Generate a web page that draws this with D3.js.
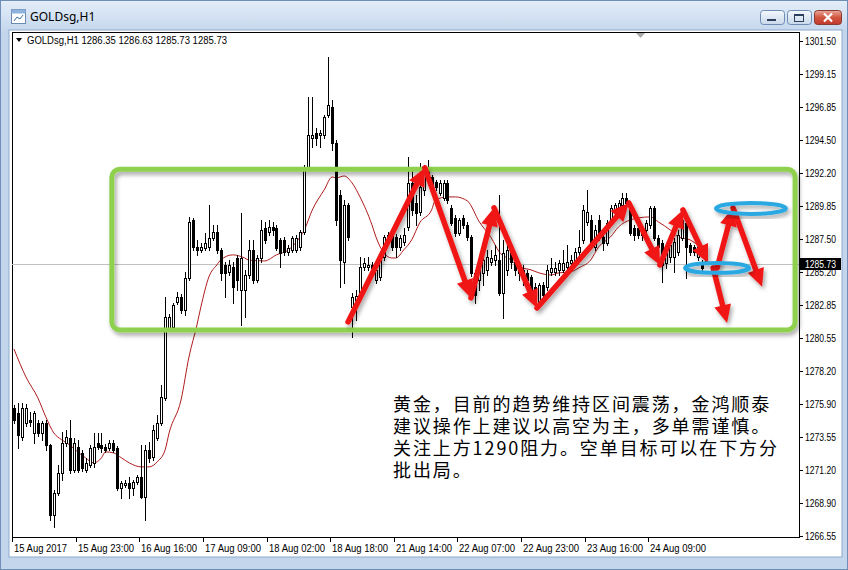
<!DOCTYPE html>
<html><head><meta charset="utf-8">
<script src="https://cdn.jsdelivr.net/npm/d3@7/dist/d3.min.js"></script>
<style>html,body{margin:0;padding:0;background:#fff;}svg{display:block;}</style>
</head><body>
<svg id="chart" width="848" height="570"></svg>
<script>
// ---------------- data ----------------
const windowTitle = "GOLDsg,H1";
const headerText = "GOLDsg,H1  1286.35 1286.63 1285.73 1285.73";
const openP = [
1275.60,1275.24,1273.55,1274.54,1274.75,1273.83,1274.54,1273.83,1274.54,1272.98,
1268.04,1269.59,1271.01,1273.12,1273.48,1271.22,1272.84,1272.42,1271.22,1271.57,
1271.71,1273.12,1272.98,1272.84,1272.77,1273.12,1272.77,1269.95,1270.16,1270.30,
1269.95,1270.37,1270.72,1269.31,1272.63,1272.14,1273.48,1274.54,1276.30,1281.24,
1281.31,1283.08,1283.43,1282.51,1284.77,1288.87,1286.96,1286.75,1286.89,1286.96,
1287.60,1288.02,1286.75,1285.69,1285.20,1285.55,1286.18,1283.93,1283.93,1284.98,
1286.75,1284.63,1286.18,1288.30,1288.02,1288.37,1288.30,1287.46,1287.46,1286.61,
1286.75,1286.75,1286.96,1288.02,1292.54,1294.66,1295.01,1294.87,1294.87,1296.28,
1296.85,1294.30,1290.63,1285.90,1289.93,1282.73,1283.22,1283.43,1285.55,1285.55,
1285.69,1284.63,1284.84,1286.26,1287.46,1287.81,1287.67,1286.96,1287.31,1288.37,
1291.48,1290.07,1289.43,1290.99,1292.40,1291.90,1291.55,1290.77,1290.42,1291.48,
1289.72,1289.01,1287.95,1289.01,1288.52,1287.67,1285.13,1284.63,1285.13,1285.34,
1285.90,1286.04,1286.04,1283.71,1285.34,1286.61,1285.90,1285.55,1285.34,1285.13,
1284.84,1284.14,1283.08,1284.28,1284.14,1285.20,1285.20,1285.34,1285.34,1285.55,
1285.83,1285.83,1286.61,1287.46,1288.73,1288.87,1286.96,1288.87,1287.67,1287.25,
1288.66,1289.43,1289.79,1289.93,1290.42,1289.93,1288.30,1288.30,1288.16,1288.16,
1288.52,1289.72,1287.60,1287.25,1285.83,1286.26,1286.26,1286.61,1287.60,1288.66,
1287.10,1286.96,1286.26,1285.83,1286.35];
const highP = [
1275.81,1275.95,1275.95,1275.88,1275.31,1275.38,1274.75,1274.68,1274.75,1273.05,
1269.80,1271.57,1273.90,1274.04,1274.75,1273.48,1273.34,1272.63,1272.07,1272.98,
1273.83,1273.83,1273.83,1273.05,1273.34,1273.34,1272.91,1270.44,1270.51,1270.72,
1270.51,1270.87,1272.98,1272.98,1273.19,1274.39,1275.10,1277.22,1283.43,1282.23,
1283.01,1283.78,1283.64,1285.20,1289.08,1289.01,1287.46,1287.25,1287.95,1289.93,
1288.52,1288.52,1286.89,1285.90,1286.04,1285.90,1286.40,1289.36,1285.34,1287.46,
1287.46,1286.40,1288.87,1288.73,1288.87,1288.73,1288.52,1287.60,1287.67,1287.10,
1287.74,1287.81,1288.16,1292.75,1297.55,1297.55,1295.36,1295.22,1296.28,1300.38,
1297.34,1294.52,1290.99,1290.28,1290.07,1283.71,1283.93,1286.26,1286.18,1286.26,
1285.90,1285.48,1286.40,1287.81,1288.02,1288.02,1287.88,1287.81,1288.30,1293.32,
1292.40,1290.63,1292.89,1292.75,1293.10,1292.05,1291.69,1291.69,1291.69,1291.69,
1289.93,1289.22,1289.01,1289.22,1288.73,1287.81,1285.34,1285.69,1286.40,1286.75,
1286.75,1287.10,1290.63,1287.46,1287.46,1286.89,1286.40,1285.90,1285.69,1285.34,
1284.98,1284.42,1284.42,1284.49,1285.69,1286.18,1285.90,1286.04,1286.75,1287.10,
1286.40,1286.89,1288.16,1289.93,1290.99,1289.22,1288.52,1289.22,1288.02,1288.87,
1289.93,1290.07,1290.28,1290.77,1290.77,1290.07,1288.52,1288.52,1288.30,1288.87,
1289.86,1289.86,1287.81,1287.46,1287.10,1287.46,1287.60,1288.16,1289.72,1288.87,
1287.25,1287.10,1287.10,1286.04,1286.63];
const lowP = [
1274.54,1272.77,1273.34,1274.32,1274.32,1273.12,1273.62,1273.34,1272.63,1267.69,
1267.19,1269.45,1270.51,1272.91,1271.01,1271.08,1271.08,1271.15,1271.08,1271.43,
1271.43,1272.70,1272.49,1272.49,1272.63,1272.49,1269.80,1269.24,1270.02,1269.24,
1269.45,1270.23,1269.24,1267.69,1271.78,1271.92,1273.34,1274.39,1276.16,1281.10,
1281.24,1282.94,1282.30,1282.16,1284.63,1286.75,1286.40,1286.61,1286.75,1286.75,
1287.46,1286.54,1284.63,1283.43,1284.98,1283.01,1283.93,1281.45,1282.02,1284.77,
1284.42,1284.49,1285.90,1287.25,1287.81,1287.81,1286.75,1285.55,1286.40,1286.40,
1286.61,1286.61,1286.75,1287.88,1292.40,1294.02,1294.16,1294.02,1294.66,1296.14,
1293.81,1288.52,1284.14,1284.42,1287.46,1280.61,1281.81,1283.22,1285.34,1285.34,
1285.20,1284.42,1284.63,1286.04,1287.31,1286.75,1286.26,1286.75,1287.10,1288.16,
1289.22,1288.52,1289.22,1290.63,1291.83,1290.99,1290.99,1290.63,1290.28,1290.07,
1288.52,1287.74,1287.81,1288.30,1287.46,1284.91,1283.01,1283.93,1284.28,1284.98,
1285.69,1285.69,1283.57,1281.95,1284.98,1285.48,1284.98,1284.63,1284.28,1283.93,
1283.43,1283.01,1282.87,1283.22,1283.93,1284.98,1284.98,1284.98,1285.20,1285.34,
1285.69,1285.69,1286.40,1287.25,1288.52,1286.89,1286.75,1287.46,1286.75,1287.10,
1288.52,1289.22,1289.57,1289.79,1289.93,1287.81,1287.46,1287.60,1287.46,1287.81,
1288.30,1287.46,1286.75,1284.49,1285.48,1285.90,1285.20,1286.40,1287.46,1284.77,
1286.40,1286.40,1286.04,1285.20,1285.73];
const closeP = [
1274.75,1273.69,1275.60,1275.60,1274.61,1275.24,1273.83,1274.54,1272.98,1268.04,
1269.59,1271.01,1273.12,1273.55,1271.22,1273.12,1271.22,1271.36,1271.71,1272.77,
1272.84,1272.84,1272.77,1272.63,1273.12,1272.63,1269.95,1270.30,1270.30,1269.95,
1270.37,1270.72,1269.31,1272.63,1272.07,1274.04,1274.54,1276.37,1282.02,1282.02,
1282.87,1283.43,1282.51,1284.77,1288.73,1286.96,1286.75,1286.96,1287.25,1287.60,
1288.02,1286.75,1285.13,1285.13,1285.69,1284.14,1284.63,1286.18,1284.98,1286.75,
1284.63,1286.18,1288.16,1287.46,1288.37,1288.16,1286.89,1286.54,1286.61,1286.89,
1287.60,1287.60,1288.02,1292.54,1294.87,1294.87,1294.66,1295.01,1296.14,1296.99,
1294.30,1288.87,1286.04,1289.93,1287.67,1283.43,1283.50,1285.55,1285.83,1285.69,
1285.48,1285.34,1286.26,1287.67,1287.81,1286.96,1286.96,1287.60,1287.81,1291.48,
1289.57,1289.36,1291.20,1292.40,1292.05,1291.34,1291.20,1291.48,1291.48,1290.28,
1288.66,1287.95,1288.87,1288.52,1287.67,1285.13,1283.57,1285.34,1286.04,1286.26,
1286.18,1286.40,1283.71,1286.54,1286.75,1285.90,1285.34,1285.13,1285.13,1284.63,
1283.93,1283.71,1284.28,1283.57,1285.34,1285.48,1285.48,1285.83,1285.83,1285.90,
1286.04,1286.61,1286.96,1289.57,1289.43,1287.25,1288.16,1287.67,1287.25,1288.66,
1289.72,1289.93,1290.07,1290.42,1290.07,1287.95,1287.81,1287.81,1287.81,1288.66,
1289.72,1287.60,1286.96,1285.69,1286.75,1287.10,1287.31,1287.81,1288.87,1286.96,
1286.61,1286.61,1286.96,1285.48,1285.73];

// moving average line (at bar positions)
const maIdx = [0,3,6,8,10,12,14,16,18,20,22,23,25,27,29,32,34,36,38,39,42,44,46,47,49,51,52,55,58,59,63,66,69,71,73,75,78,80,81,83,85,87,90,91,93,95,96,98,100,102,105,106,109,111,114,117,120,122,125,127,130,132,135,137,140,142,145,147,150,152,155,157,160,162,165,167,170,172,174];
const maVal = [1279.75,1277.78,1276.30,1274.96,1273.83,1273.34,1272.98,1272.49,1272.07,1271.71,1272.07,1272.49,1272.42,1272.07,1271.71,1271.43,1271.43,1271.78,1272.63,1273.83,1276.16,1279.20,1281.45,1282.73,1284.84,1285.69,1286.04,1286.40,1286.18,1286.04,1285.97,1286.40,1286.75,1287.31,1288.16,1289.57,1290.99,1291.90,1291.83,1291.97,1291.48,1290.49,1288.52,1287.67,1286.54,1286.18,1286.18,1286.75,1287.46,1288.66,1289.57,1290.28,1290.49,1290.49,1290.21,1288.73,1287.60,1286.61,1286.04,1285.55,1285.34,1285.13,1284.98,1285.13,1285.20,1285.48,1286.04,1286.96,1287.67,1288.37,1288.87,1289.01,1289.08,1288.73,1288.16,1287.67,1287.46,1287.10,1286.89];

const priceTicks = ["1301.50","1299.15","1296.85","1294.50","1292.20","1289.85","1287.50","1285.20","1282.85","1280.55","1278.20","1275.90","1273.55","1271.20","1268.90","1266.55"];
const timeLabels = ["15 Aug 2017","15 Aug 23:00","16 Aug 16:00","17 Aug 09:00","18 Aug 02:00","18 Aug 18:00","21 Aug 14:00","22 Aug 07:00","22 Aug 23:00","23 Aug 16:00","24 Aug 09:00"];
const timeIdx = [0,16,32,48,64,80,96,112,128,144,160];
const lastPrice = 1285.73;

// annotations (bar index / price units)
const zoneIdx = [24.6, 196.4];
const zonePrice = [1292.45, 1281.10];
const resistIdx = [80.7, 194.4];
const resistPrice = 1289.90;
const arrowFromIdx = [84.0,103.3,114.9,120.7,131.5,154.6,162.4,168.2,175.8,176.8,180.8];
const arrowFromP   = [1281.67,1292.54,1283.36,1289.72,1282.65,1290.07,1285.69,1289.57,1285.48,1285.48,1289.72];
const arrowToIdx   = [103.3,114.9,120.7,131.5,154.6,162.4,168.2,174.5,179.3,180.8,188.1];
const arrowToP     = [1292.54,1283.36,1289.72,1282.65,1290.07,1285.69,1289.57,1285.83,1281.59,1289.72,1284.14];
const ellipseIdx = [185.3, 176.8];
const ellipseP = [1289.68, 1285.48];
const ellipseRIdx = [8.8, 8.05];
const ellipseRP = [0.39, 0.35];
const noteLines = ["黄金，目前的趋势维持区间震荡，金鸿顺泰","建议操作上建议以高空为主，多单需谨慎。","关注上方1290阻力。空单目标可以在下方分","批出局。"];

// ---------------- drawing ----------------
const svg = d3.select("#chart");
const frame = {l:12, r:799, t:32, b:537};
const x = d3.scaleLinear().domain([0, 174]).range([14, 706]);
const y = d3.scaleLinear().domain([1266.55, 1301.50]).range([536, 41]);

const defs = svg.append("defs");
const tg = defs.append("linearGradient").attr("id","titleGrad").attr("x1",0).attr("y1",0).attr("x2",0).attr("y2",1);
tg.append("stop").attr("offset","0").attr("stop-color","#e4eef9");
tg.append("stop").attr("offset","1").attr("stop-color","#c6d8ee");
const bg = defs.append("linearGradient").attr("id","btnGrad").attr("x1",0).attr("y1",0).attr("x2",0).attr("y2",1);
bg.append("stop").attr("offset","0").attr("stop-color","#f4f8fc");
bg.append("stop").attr("offset","1").attr("stop-color","#c9d8ea");
const cg = defs.append("linearGradient").attr("id","closeGrad").attr("x1",0).attr("y1",0).attr("x2",0).attr("y2",1);
cg.append("stop").attr("offset","0").attr("stop-color","#e9a99b");
cg.append("stop").attr("offset","0.5").attr("stop-color","#d2563f");
cg.append("stop").attr("offset","1").attr("stop-color","#c0392b");
const f = defs.append("filter").attr("id","shadow").attr("x","-20%").attr("y","-20%").attr("width","140%").attr("height","160%");
f.append("feDropShadow").attr("dx",2).attr("dy",3).attr("stdDeviation",2).attr("flood-color","#000").attr("flood-opacity",0.35);
defs.append("clipPath").attr("id","plotClip").append("rect")
  .attr("x",frame.l).attr("y",frame.t).attr("width",frame.r-frame.l).attr("height",frame.b-frame.t);

// window chrome
svg.append("rect").attr("width",848).attr("height",570).attr("fill","#c3d6ec");
svg.append("rect").attr("width",848).attr("height",30).attr("fill","url(#titleGrad)");
svg.append("rect").attr("x",0.5).attr("y",0.5).attr("width",847).attr("height",569).attr("fill","none").attr("stroke","#6f8fb8");
svg.append("rect").attr("x",9).attr("y",30).attr("width",833).attr("height",527).attr("fill","#fff").attr("stroke","#8ea9c9");
// icon
const ic = svg.append("g").attr("transform","translate(11,9)");
ic.append("rect").attr("x",0.5).attr("y",0.5).attr("width",14).attr("height",14).attr("fill","#fff").attr("stroke","#6a8ab2");
ic.append("rect").attr("x",0.5).attr("y",0.5).attr("width",14).attr("height",4).attr("fill","#8fb2dc");
ic.append("path").attr("d","M3,12 L6,8 L9,10 L12,6").attr("stroke","#3a6ea8").attr("fill","none");
svg.append("text").attr("x",30).attr("y",21).text(windowTitle)
  .attr("font-family","Noto Sans, DejaVu Sans, sans-serif").attr("font-size",12).attr("fill","#000");
// buttons
const btns = [{x:760,w:24},{x:787,w:24}];
btns.forEach(b=>svg.append("rect").attr("x",b.x+0.5).attr("y",10.5).attr("width",b.w).attr("height",14).attr("rx",3).attr("fill","url(#btnGrad)").attr("stroke","#6d8bb3"));
svg.append("rect").attr("x",767).attr("y",19).attr("width",9).attr("height",2).attr("fill","#2b3f5c");
svg.append("rect").attr("x",794.5).attr("y",14.5).attr("width",9).attr("height",7).attr("fill","none").attr("stroke","#2b3f5c").attr("stroke-width",1);
svg.append("rect").attr("x",794).attr("y",14).attr("width",10).attr("height",2).attr("fill","#2b3f5c");
svg.append("rect").attr("x",814.5).attr("y",10.5).attr("width",27).attr("height",14).attr("rx",3).attr("fill","url(#closeGrad)").attr("stroke","#8a3a30");
svg.append("path").attr("d","M824,13.5 L832,21.5 M832,13.5 L824,21.5").attr("stroke","#fff").attr("stroke-width",2.2);

// chart frame
svg.append("rect").attr("x",frame.l+0.5).attr("y",frame.t+0.5).attr("width",frame.r-frame.l).attr("height",frame.b-frame.t)
  .attr("fill","#fff").attr("stroke","#000");

const plot = svg.append("g").attr("clip-path","url(#plotClip)");
// bid line
plot.append("line").attr("x1",frame.l).attr("x2",frame.r)
  .attr("y1",Math.round(y(lastPrice))+0.5).attr("y2",Math.round(y(lastPrice))+0.5)
  .attr("stroke","#c0c0c0").attr("stroke-width",1);

// moving average
const maLine = d3.line().x(d=>x(d[0])).y(d=>y(d[1])).curve(d3.curveMonotoneX);
plot.append("path").attr("d",maLine(maIdx.map((v,i)=>[v,maVal[i]])))
  .attr("fill","none").attr("stroke","#b01c1c").attr("stroke-width",1);

// candles
const cg2 = plot.append("g");
openP.forEach((o,i)=>{
  const c = closeP[i], cx = Math.round(x(i));
  cg2.append("line").attr("x1",cx+0.5).attr("x2",cx+0.5)
    .attr("y1",Math.round(y(highP[i]))).attr("y2",Math.round(y(lowP[i]))+1)
    .attr("stroke","#000").attr("stroke-width",1);
  const top = Math.round(y(Math.max(o,c))), bot = Math.round(y(Math.min(o,c)));
  cg2.append("rect").attr("x",cx-0.5).attr("y",top+0.5).attr("width",2).attr("height",Math.max(0,bot-top))
    .attr("fill", c>=o ? "#fff" : "#000").attr("stroke","#000").attr("stroke-width",1);
});

// green zone box
const ann = svg.append("g");
ann.append("rect").attr("x",x(zoneIdx[0])).attr("y",y(zonePrice[0]))
  .attr("width",x(zoneIdx[1])-x(zoneIdx[0])).attr("height",y(zonePrice[1])-y(zonePrice[0]))
  .attr("rx",8).attr("fill","none").attr("stroke","#8fd14f").attr("stroke-width",5).attr("filter","url(#shadow)");
// resistance line
ann.append("line").attr("x1",x(resistIdx[0])).attr("x2",x(resistIdx[1]))
  .attr("y1",y(resistPrice)).attr("y2",y(resistPrice))
  .attr("stroke","#6e6e6e").attr("stroke-width",5).attr("filter","url(#shadow)");

// red arrows
const red = "#f01616";
const ag = ann.append("g").attr("filter","url(#shadow)");
arrowFromIdx.forEach((_,k)=>{
  const x1=x(arrowFromIdx[k]), y1=y(arrowFromP[k]), x2=x(arrowToIdx[k]), y2=y(arrowToP[k]);
  const dx=x2-x1, dy=y2-y1, L=Math.hypot(dx,dy), ux=dx/L, uy=dy/L, px=-uy, py=ux;
  const hl=18, hw=8.5;
  const bx=x2-ux*hl, by=y2-uy*hl;
  ag.append("line").attr("x1",x1).attr("y1",y1).attr("x2",bx+ux*3).attr("y2",by+uy*3)
    .attr("stroke",red).attr("stroke-width",5.5).attr("stroke-linecap","round");
  ag.append("path").attr("d",`M${x2},${y2}L${bx+px*hw},${by+py*hw}L${bx-px*hw},${by-py*hw}Z`).attr("fill",red);
});
// blue ellipses
ellipseIdx.forEach((v,k)=>{
  ann.append("ellipse").attr("cx",x(v)).attr("cy",y(ellipseP[k]))
    .attr("rx",x(v+ellipseRIdx[k])-x(v)).attr("ry",y(ellipseP[k]-ellipseRP[k])-y(ellipseP[k]))
    .attr("fill","none").attr("stroke","#2aa8e2").attr("stroke-width",4).attr("filter","url(#shadow)");
});

// note text
noteLines.forEach((t,i)=>svg.append("text").attr("x",393).attr("y",411+i*22).text(t)
  .attr("font-family","Noto Sans CJK SC, sans-serif").attr("font-size",18)
  .attr("letter-spacing",1.9).attr("fill","#000"));

// header
svg.append("path").attr("d","M16,38 L22,38 L19,42 Z").attr("fill","#000");
svg.append("text").attr("x",27).attr("y",44).text(headerText)
  .attr("font-family","Liberation Sans, Arial, sans-serif").attr("font-size",10).attr("fill","#000")
  .attr("textLength",200).attr("lengthAdjust","spacingAndGlyphs");
// chart-shift marker
svg.append("path").attr("d","M636,33 L645,33 L640.5,38 Z").attr("fill","#a8a8a8");

// price axis
const pa = svg.append("g");
priceTicks.forEach(t=>{
  const yy = Math.round(y(+t))+0.5;
  pa.append("line").attr("x1",frame.r).attr("x2",frame.r+4).attr("y1",yy).attr("y2",yy).attr("stroke","#000");
  pa.append("text").attr("x",805).attr("y",yy+3.5).text(t)
    .attr("font-family","Liberation Sans, Arial, sans-serif").attr("font-size",10).attr("fill","#000")
    .attr("textLength",31).attr("lengthAdjust","spacingAndGlyphs");
});
// last price tag
const ly = y(lastPrice);
pa.append("rect").attr("x",frame.r+1).attr("y",Math.round(ly)-6).attr("width",41).attr("height",12).attr("fill","#000");
pa.append("text").attr("x",805).attr("y",Math.round(ly)+4).text(lastPrice.toFixed(2))
  .attr("font-family","Liberation Sans, Arial, sans-serif").attr("font-size",10).attr("fill","#fff")
  .attr("textLength",31).attr("lengthAdjust","spacingAndGlyphs");

// time axis
const ta = svg.append("g");
timeIdx.forEach((v,i)=>{
  const xx = Math.round(x(v))-1.5;
  ta.append("line").attr("x1",xx).attr("x2",xx).attr("y1",frame.b).attr("y2",frame.b+5).attr("stroke","#000");
  ta.append("text").attr("x",xx+1.5).attr("y",552).text(timeLabels[i])
    .attr("font-family","Liberation Sans, Arial, sans-serif").attr("font-size",10).attr("fill","#000")
    .attr("textLength",timeLabels[i].length===11?53:56).attr("lengthAdjust","spacingAndGlyphs");
});
</script>
</body></html>
